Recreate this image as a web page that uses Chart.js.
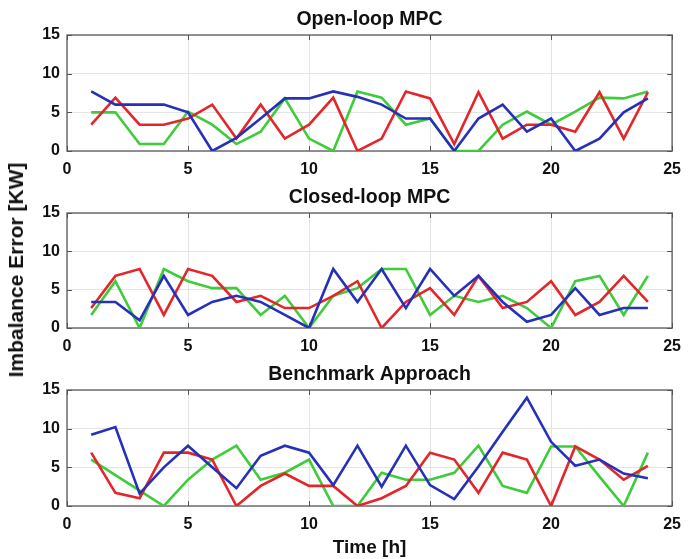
<!DOCTYPE html>
<html>
<head>
<meta charset="utf-8">
<script src="https://cdn.jsdelivr.net/npm/chart.js@4.4.1/dist/chart.umd.min.js"></script>
<style>
  html, body { margin: 0; padding: 0; background: #ffffff; }
  #wrap { position: relative; width: 690px; height: 559px; overflow: hidden; }
  .panel { position: absolute; left: 0; width: 690px; }
  #ylabel {
    position: absolute; left: 16px; top: 270px;
    transform: translate(-50%, -50%) rotate(-90deg);
    white-space: nowrap;
    font-family: 'Liberation Sans', Arial, Helvetica, sans-serif;
    font-weight: bold; font-size: 21px; color: #111;
  }
</style>
</head>
<body>
<div id="wrap">
  <div class="panel" id="p1" style="top:0px;height:180px;"><canvas id="c1"></canvas></div>
  <div class="panel" id="p2" style="top:178px;height:180px;"><canvas id="c2"></canvas></div>
  <div class="panel" id="p3" style="top:355px;height:204px;"><canvas id="c3"></canvas></div>
  <div id="ylabel"></div>
</div>
<script>
// ---- data ----
const hours = [1, 2, 3, 4, 5, 6, 7, 8, 9, 10, 11, 12, 13, 14, 15, 16, 17, 18, 19, 20, 21, 22, 23, 24];
const xTicks = [0, 5, 10, 15, 20, 25];
const yTicks = [0, 5, 10, 15];
const panelTitles = ["Open-loop MPC", "Closed-loop MPC", "Benchmark Approach"];
const yAxisLabel = "Imbalance Error [KW]";
const xAxisLabel = "Time [h]";

const openBlue  = [7.7, 6.0, 6.0, 6.0, 5.0, 0.0, 1.7, 4.2, 6.8, 6.8, 7.7, 7.0, 6.0, 4.2, 4.2, 0.0, 4.2, 6.0, 2.5, 4.2, 0.0, 1.6, 5.0, 6.8];
const openRed   = [3.4, 6.9, 3.4, 3.4, 4.2, 6.0, 1.6, 6.0, 1.6, 3.4, 6.9, 0.0, 1.6, 7.7, 6.8, 0.9, 7.6, 1.6, 3.4, 3.4, 2.5, 7.6, 1.6, 7.6];
const openGreen = [5.0, 5.0, 0.9, 0.9, 5.1, 3.4, 0.9, 2.5, 6.8, 1.6, 0.0, 7.7, 6.9, 3.4, 4.2, 0.0, 0.0, 3.4, 5.1, 3.4, 5.1, 6.9, 6.8, 7.7];

const closedBlue  = [3.4, 3.4, 1.0, 6.8, 1.7, 3.4, 4.2, 3.4, 1.7, 0.0, 7.7, 3.4, 7.7, 2.6, 7.7, 4.2, 6.8, 3.4, 0.8, 1.7, 5.2, 1.7, 2.6, 2.6];
const closedRed   = [2.6, 6.8, 7.7, 1.7, 7.7, 6.8, 3.4, 4.2, 2.6, 2.6, 4.2, 6.1, 0.0, 3.4, 5.2, 1.7, 6.8, 2.6, 3.4, 6.1, 1.7, 3.4, 6.8, 3.4];
const closedGreen = [1.7, 6.1, 0.0, 7.7, 6.1, 5.2, 5.2, 1.7, 4.2, 0.0, 4.2, 5.2, 7.7, 7.7, 1.7, 4.2, 3.4, 4.2, 2.6, 0.0, 6.1, 6.8, 1.7, 6.8];

const benchBlue  = [9.2, 10.2, 1.6, 5.0, 7.8, 5.0, 2.3, 6.5, 7.8, 6.9, 2.7, 7.8, 2.5, 7.8, 2.7, 0.9, 5.1, 9.6, 14.0, 8.3, 5.2, 6.0, 4.2, 3.6];
const benchRed   = [6.9, 1.7, 1.0, 6.9, 6.9, 6.0, 0.0, 2.6, 4.2, 2.6, 2.6, 0.0, 1.0, 2.6, 6.9, 6.0, 1.7, 6.9, 6.0, 0.0, 7.7, 6.0, 3.4, 5.2];
const benchGreen = [6.0, 4.0, 2.0, 0.0, 3.4, 6.0, 7.8, 3.4, 4.3, 6.0, 0.0, 0.0, 4.3, 3.4, 3.4, 4.3, 7.8, 2.6, 1.7, 7.7, 7.7, 3.8, 0.0, 6.9];

// ---- styling ----
const BLUE = "#2630b8";
const RED = "#e3262a";
const GREEN = "#3fcc3a";
const FONT = "'Liberation Sans', Arial, Helvetica, sans-serif";

document.getElementById('ylabel').textContent = yAxisLabel;

const boxPlugin = {
  id: 'matlabBox',
  beforeDatasetsDraw(chart) {
    const ctx = chart.ctx, a = chart.chartArea;
    const xs = chart.scales.x, ys = chart.scales.y;
    ctx.save();
    ctx.strokeStyle = '#6f6f6f';
    ctx.lineWidth = 1.5;
    ctx.strokeRect(a.left, a.top, a.right - a.left, a.bottom - a.top);
    ctx.strokeStyle = '#555555';
    ctx.lineWidth = 1;
    ctx.beginPath();
    xs.ticks.forEach(t => {
      const px = Math.round(xs.getPixelForValue(t.value)) + 0.5;
      ctx.moveTo(px, a.bottom); ctx.lineTo(px, a.bottom - 5);
      ctx.moveTo(px, a.top); ctx.lineTo(px, a.top + 5);
    });
    ys.ticks.forEach(t => {
      const py = Math.round(ys.getPixelForValue(t.value)) + 0.5;
      ctx.moveTo(a.left, py); ctx.lineTo(a.left + 5, py);
      ctx.moveTo(a.right, py); ctx.lineTo(a.right - 5, py);
    });
    ctx.stroke();
    ctx.restore();
  }
};

function ds(label, data, color) {
  return {
    label: label,
    data: hours.map((h, i) => ({ x: h, y: data[i] })),
    borderColor: color,
    backgroundColor: color,
    borderWidth: 2.6,
    pointRadius: 0,
    tension: 0,
    fill: false
  };
}

function makeChart(canvasId, title, series, opts) {
  const xTitle = opts.xTitle ? { display: true, text: xAxisLabel, color: '#111', font: { family: FONT, size: 19, weight: 'bold' }, padding: { top: 0, bottom: 0 } } : { display: false };
  return new Chart(document.getElementById(canvasId), {
    type: 'line',
    data: { datasets: series },
    options: {
      responsive: true,
      maintainAspectRatio: false,
      animation: false,
      layout: { padding: { left: 0, right: 13, top: 0, bottom: 0 } },
      plugins: {
        legend: { display: false },
        tooltip: { enabled: false },
        title: {
          display: true,
          fullSize: false,
          text: title,
          color: '#111',
          font: { family: FONT, size: 19.5, weight: 'bold', lineHeight: 1.2 },
          padding: { top: 8, bottom: 35 - 8 - 23.4 }
        }
      },
      scales: {
        x: {
          type: 'linear',
          min: 0, max: 25,
          afterBuildTicks: (s) => { s.ticks = xTicks.map(v => ({ value: v })); },
          afterFit: (s) => { s.height = opts.xHeight; },
          ticks: { color: '#111', font: { family: FONT, size: 16, weight: 'bold' }, padding: 9, maxRotation: 0, autoSkip: false },
          grid: { color: '#e4e4e4', lineWidth: 1, drawTicks: false },
          border: { display: false },
          title: xTitle
        },
        y: {
          type: 'linear',
          min: 0, max: 15,
          afterBuildTicks: (s) => { s.ticks = yTicks.map(v => ({ value: v })); },
          afterFit: (s) => { s.width = 67; },
          ticks: { color: '#111', font: { family: FONT, size: 16, weight: 'bold' }, padding: 7 },
          grid: { color: '#e4e4e4', lineWidth: 1, drawTicks: false },
          border: { display: false }
        }
      }
    },
    plugins: [boxPlugin]
  });
}

makeChart('c1', panelTitles[0], [ds('Series 1', openBlue, BLUE), ds('Series 2', openRed, RED), ds('Series 3', openGreen, GREEN)], { xHeight: 29 });
makeChart('c2', panelTitles[1], [ds('Series 1', closedBlue, BLUE), ds('Series 2', closedRed, RED), ds('Series 3', closedGreen, GREEN)], { xHeight: 30 });
makeChart('c3', panelTitles[2], [ds('Series 1', benchBlue, BLUE), ds('Series 2', benchRed, RED), ds('Series 3', benchGreen, GREEN)], { xHeight: 53, xTitle: true });
</script>
</body>
</html>
